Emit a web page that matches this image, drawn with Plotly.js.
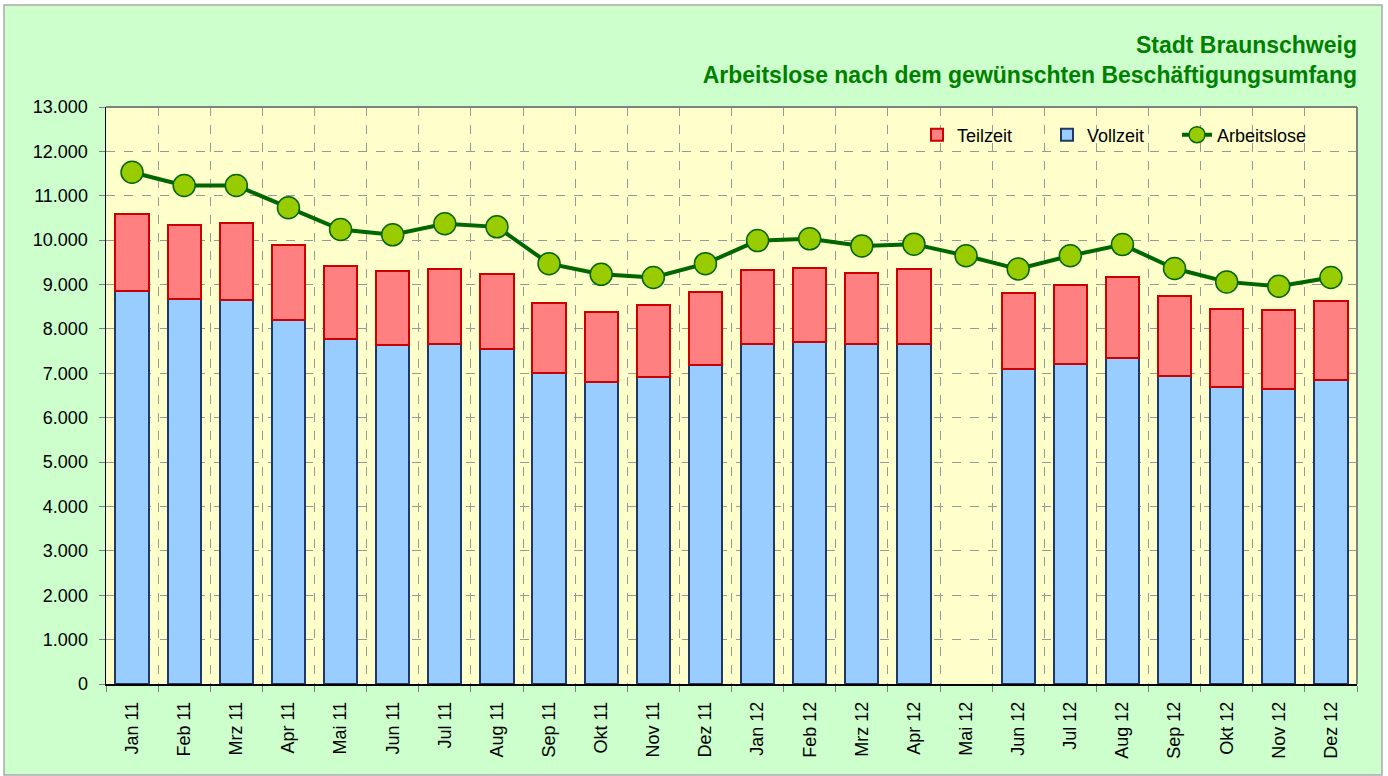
<!DOCTYPE html>
<html>
<head>
<meta charset="utf-8">
<script src="https://cdn.plot.ly/plotly-3.0.1.min.js"></script>
<style>html,body{margin:0;padding:0;background:#fff;}#chart{width:1388px;height:776px;}</style>
</head>
<body>
<div id="chart"></div>
<script>
const months = ["Jan 11","Feb 11","Mrz 11","Apr 11","Mai 11","Jun 11","Jul 11","Aug 11","Sep 11","Okt 11","Nov 11","Dez 11",
                "Jan 12","Feb 12","Mrz 12","Apr 12","Mai 12","Jun 12","Jul 12","Aug 12","Sep 12","Okt 12","Nov 12","Dez 12"];
const vollzeit = [8860, 8670, 8650, 8190, 7770, 7630, 7670, 7550, 7000, 6800, 6920, 7190,
                  7650, 7710, 7650, 7650, null, 7100, 7210, 7350, 6950, 6700, 6640, 6860];
const teilzeit = [1720, 1670, 1730, 1700, 1650, 1670, 1690, 1680, 1590, 1580, 1610, 1640,
                  1680, 1670, 1620, 1690, null, 1700, 1780, 1820, 1790, 1760, 1780, 1770];
const arbeitslose = [11530, 11230, 11230, 10730, 10240, 10120, 10370, 10300, 9470, 9230, 9160, 9470,
                     9990, 10030, 9870, 9910, 9650, 9350, 9650, 9900, 9360, 9060, 8960, 9160];
const titleLines = ["Stadt Braunschweig", "Arbeitslose nach dem gewünschten Beschäftigungsumfang"];

const FONT = "Liberation Sans, Arial, sans-serif";

const traces = [
  {type:"bar", name:"Vollzeit", x:months, y:vollzeit, legendrank:2,
   marker:{color:"#99CCFF", line:{color:"#1F3864", width:2}}, hoverinfo:"skip"},
  {type:"bar", name:"Teilzeit", x:months, y:teilzeit, legendrank:1,
   marker:{color:"#FF8080", line:{color:"#CC0000", width:2}}, hoverinfo:"skip"},
  {type:"scatter", mode:"lines+markers", name:"Arbeitslose", x:months, y:arbeitslose, legendrank:3,
   line:{color:"#006600", width:4}, connectgaps:true,
   marker:{size:22, color:"#99CC00", line:{color:"#006600", width:1.5}}, hoverinfo:"skip"}
];

const L=106, R=1357, T=107, B=684;
const px = v => (v-L)/(R-L);
const py = v => (B-v)/(B-T);

const layout = {
  width:1388, height:776,
  margin:{l:L, r:1388-R, t:T, b:776-B, autoexpand:false},
  paper_bgcolor:"#FFFFFF",
  plot_bgcolor:"#FFFFCC",
  separators:",.",
  barmode:"stack",
  bargap:0.36,
  font:{family:FONT, size:18, color:"#000"},
  title:{text:titleLines.join("<br>"), x:1, xref:"paper", xanchor:"right",
         y:1-53/776, yref:"container", yanchor:"top",
         font:{family:FONT, size:23, color:"#008000", weight:"bold"}},
  showlegend:true,
  legend:{orientation:"h", traceorder:"normal", x:px(917), xanchor:"left", y:py(135), yanchor:"middle",
          entrywidth:85, entrywidthmode:"pixels",
          bgcolor:"rgba(0,0,0,0)", font:{family:FONT, size:18, color:"#000"}},
  xaxis:{type:"category", range:[-0.5, months.length-0.5], tickson:"boundaries",
         showgrid:true, gridcolor:"#999999", griddash:"dash", gridwidth:1,
         ticks:"outside", ticklen:6, tickcolor:"#808080", tickangle:-90, ticklabelstandoff:9,
         showline:true, linecolor:"#000", linewidth:1.5, tickfont:{family:FONT, size:18},
         fixedrange:true},
  yaxis:{range:[0,13000], dtick:1000, tickformat:",d", showgrid:true, gridcolor:"#999999", griddash:"dash", gridwidth:1,
         ticks:"outside", ticklen:6, tickcolor:"#808080", ticklabelstandoff:7, showline:true, linecolor:"#000", linewidth:1.5,
         zeroline:false, tickfont:{family:FONT, size:18}, fixedrange:true},
  shapes:[
    {type:"rect", xref:"paper", yref:"paper", x0:px(4), x1:px(1382), y0:py(775), y1:py(5),
     fillcolor:"#CCFFCC", line:{color:"#AAAAAA", width:1.5}, layer:"below"},
    {type:"rect", xref:"x domain", yref:"y domain", x0:0, x1:1, y0:0, y1:1,
     fillcolor:"#FFFFCC", line:{width:0}, layer:"below"},
    {type:"line", xref:"paper", yref:"paper", x0:0, x1:1, y0:1, y1:1, line:{color:"#808080", width:2}},
    {type:"line", xref:"paper", yref:"paper", x0:1, x1:1, y0:0, y1:1, line:{color:"#808080", width:2}}
  ]
};

Plotly.newPlot("chart", traces, layout, {displayModeBar:false, staticPlot:true});
</script>
</body>
</html>
